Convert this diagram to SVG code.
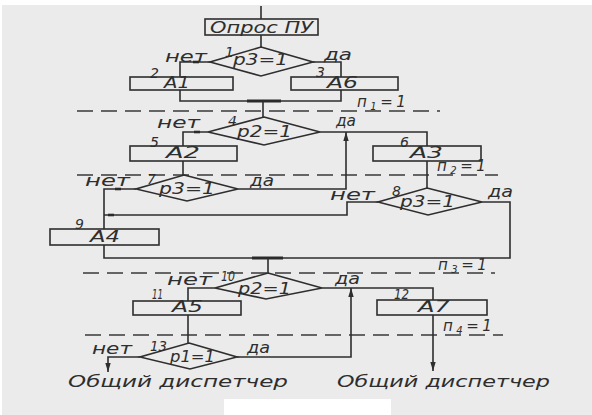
<svg xmlns="http://www.w3.org/2000/svg" width="592" height="415" viewBox="0 0 592 415">
<defs>
<style>
.ln{fill:none;stroke:#2e2e2e;stroke-width:1.6;stroke-linejoin:miter}
.bx{fill:none;stroke:#2e2e2e;stroke-width:1.6}
.ds{fill:none;stroke:#3a3a3a;stroke-width:1.4;stroke-dasharray:16 8}
.bd{stroke:#2a2a2a;stroke-width:3}
.mk{stroke:#2a2a2a;stroke-width:2.6}
.t{font-family:"DejaVu Sans","Noto Sans",sans-serif;font-style:italic;fill:#2e2e2e;font-size:15px}
.n{font-size:14px}
.s{letter-spacing:3.5px}
</style>
<marker id="ah" viewBox="0 0 10 10" refX="10" refY="5" markerWidth="9" markerHeight="9" markerUnits="userSpaceOnUse" orient="auto">
<path d="M0,2 L10,5 L0,8 z" fill="#2e2e2e"/>
</marker>
</defs>
<rect x="0" y="0" width="592" height="415" fill="#ffffff"/>
<rect x="2" y="5" width="590" height="410" fill="#ebebeb"/>
<rect x="224" y="399" width="167" height="16" fill="#ffffff"/>

<g id="levels">
<line class="ds" x1="77" y1="111" x2="440" y2="111"/>
<line class="ds" x1="77" y1="175" x2="498" y2="175"/>
<line class="ds" x1="83" y1="273" x2="495" y2="273"/>
<line class="ds" x1="85" y1="335" x2="503" y2="335"/>
<text class="t s" x="357" y="107">п<tspan font-size="10" dy="3">1</tspan><tspan dy="-3">=1</tspan></text>
<text class="t s" x="437" y="171">п<tspan font-size="10" dy="3">2</tspan><tspan dy="-3">=1</tspan></text>
<text class="t s" x="438" y="270">п<tspan font-size="10" dy="3">3</tspan><tspan dy="-3">=1</tspan></text>
<text class="t s" x="443" y="331">п<tspan font-size="10" dy="3">4</tspan><tspan dy="-3">=1</tspan></text>
</g>

<g id="connectors">
<path class="ln" d="M261,6 V19"/>
<path class="ln" d="M261,35 V47"/>
<path class="ln" d="M210,62 H180 V77"/>
<path class="ln" d="M313,62 H341 V77"/>
<path class="ln" d="M180,90 V101 H341 V90"/>
<line class="bd" x1="247" y1="101" x2="281" y2="101"/>
<path class="ln" d="M263,101 V117"/>
<path class="ln" d="M208,132 H183 V146"/>
<path class="ln" d="M320,132 H427 V146"/>
<path class="ln" d="M183,161 V175"/>
<path class="ln" d="M427,161 V188"/>
<path class="ln" d="M136,189 H104 V229"/>
<path class="ln" d="M238,189 H346 V132" marker-end="url(#ah)"/>
<path class="ln" d="M378,202 H347 V215 H104"/>
<path class="ln" d="M104,245 V258 H510 V202 H482"/>
<line class="bd" x1="252" y1="258" x2="283" y2="258"/>
<path class="ln" d="M268,258 V273"/>
<path class="ln" d="M215,288 H188 V301"/>
<path class="ln" d="M322,288 H433 V300"/>
<path class="ln" d="M188,315 V343"/>
<path class="ln" d="M433,315 V371" marker-end="url(#ah)"/>
<path class="ln" d="M140,357 H108 V372" marker-end="url(#ah)"/>
<path class="ln" d="M237,357 H351 V288" marker-end="url(#ah)"/>
<line class="mk" x1="193" y1="62" x2="199" y2="62"/>
<line class="mk" x1="194" y1="132" x2="200" y2="132"/>
<line class="mk" x1="115" y1="189" x2="121" y2="189"/>
<line class="mk" x1="108" y1="215" x2="114" y2="215"/>
</g>

<g id="start">
<rect class="bx" x="205" y="19" width="113" height="16"/>
<text class="t" x="210" y="33" textLength="103" lengthAdjust="spacingAndGlyphs">Опрос ПУ</text>
</g>

<g id="d1">
<polygon class="bx" points="261,47 313,62 261,76 210,62"/>
<text class="t" x="165" y="62" textLength="42" lengthAdjust="spacingAndGlyphs">нет</text>
<text class="t n" x="225" y="57">1</text>
<text class="t" x="233" y="65" textLength="55" lengthAdjust="spacingAndGlyphs">р3=1</text>
<text class="t" x="324" y="60" textLength="28" lengthAdjust="spacingAndGlyphs">да</text>
</g>

<g id="b2">
<rect class="bx" x="130" y="77" width="103" height="13"/>
<text class="t n" x="150" y="78">2</text>
<text class="t" x="164" y="88" textLength="26" lengthAdjust="spacingAndGlyphs">А1</text>
</g>

<g id="b3">
<rect class="bx" x="291" y="77" width="107" height="13"/>
<text class="t n" x="316" y="77">3</text>
<text class="t" x="327" y="88" textLength="31" lengthAdjust="spacingAndGlyphs">А6</text>
</g>

<g id="d4">
<polygon class="bx" points="264,117 320,132 264,145 208,132"/>
<text class="t" x="157" y="128" textLength="43" lengthAdjust="spacingAndGlyphs">нет</text>
<text class="t n" x="228" y="126">4</text>
<text class="t" x="237" y="137" textLength="55" lengthAdjust="spacingAndGlyphs">р2=1</text>
<text class="t" x="336" y="126" textLength="20" lengthAdjust="spacingAndGlyphs">да</text>
</g>

<g id="b5">
<rect class="bx" x="130" y="146" width="107" height="15"/>
<text class="t n" x="150" y="147">5</text>
<text class="t" x="166" y="158" textLength="34" lengthAdjust="spacingAndGlyphs">А2</text>
</g>

<g id="b6">
<rect class="bx" x="373" y="146" width="108" height="15"/>
<text class="t n" x="400" y="147">6</text>
<text class="t" x="410" y="158" textLength="33" lengthAdjust="spacingAndGlyphs">А3</text>
</g>

<g id="d7">
<polygon class="bx" points="184,175 238,189 187,201 136,189"/>
<text class="t" x="85" y="186" textLength="45" lengthAdjust="spacingAndGlyphs">нет</text>
<text class="t n" x="147" y="184">7</text>
<text class="t" x="159" y="194" textLength="56" lengthAdjust="spacingAndGlyphs">р3=1</text>
<text class="t" x="250" y="186" textLength="24" lengthAdjust="spacingAndGlyphs">да</text>
</g>

<g id="d8">
<polygon class="bx" points="427,188 482,202 428,215 378,202"/>
<text class="t" x="330" y="200" textLength="45" lengthAdjust="spacingAndGlyphs">нет</text>
<text class="t n" x="392" y="196">8</text>
<text class="t" x="400" y="207" textLength="55" lengthAdjust="spacingAndGlyphs">р3=1</text>
<text class="t" x="488" y="197" textLength="25" lengthAdjust="spacingAndGlyphs">да</text>
</g>

<g id="b9">
<rect class="bx" x="50" y="229" width="109" height="16"/>
<text class="t n" x="75" y="229">9</text>
<text class="t" x="90" y="242" textLength="30" lengthAdjust="spacingAndGlyphs">А4</text>
</g>

<g id="d10">
<polygon class="bx" points="268,273 322,288 266,299 215,288"/>
<text class="t" x="167" y="285" textLength="45" lengthAdjust="spacingAndGlyphs">нет</text>
<text class="t n" x="221" y="281" textLength="14" lengthAdjust="spacingAndGlyphs">10</text>
<text class="t" x="238" y="294" textLength="53" lengthAdjust="spacingAndGlyphs">р2=1</text>
<text class="t" x="335" y="284" textLength="25" lengthAdjust="spacingAndGlyphs">да</text>
</g>

<g id="b11">
<rect class="bx" x="133" y="301" width="108" height="14"/>
<text class="t n" x="152" y="299" textLength="11" lengthAdjust="spacingAndGlyphs">11</text>
<text class="t" x="172" y="312" textLength="31" lengthAdjust="spacingAndGlyphs">А5</text>
</g>

<g id="b12">
<rect class="bx" x="377" y="300" width="110" height="15"/>
<text class="t n" x="394" y="299" textLength="15" lengthAdjust="spacingAndGlyphs">12</text>
<text class="t" x="418" y="312" textLength="32" lengthAdjust="spacingAndGlyphs">А7</text>
</g>

<g id="d13">
<polygon class="bx" points="189,343 237,357 190,369 140,357"/>
<text class="t" x="92" y="354" textLength="40" lengthAdjust="spacingAndGlyphs">нет</text>
<text class="t n" x="150" y="351" textLength="17" lengthAdjust="spacingAndGlyphs">13</text>
<text class="t" x="170" y="362" textLength="45" lengthAdjust="spacingAndGlyphs">р1=1</text>
<text class="t" x="247" y="353" textLength="23" lengthAdjust="spacingAndGlyphs">да</text>
</g>

<g id="end1">
<text class="t" x="68" y="387" font-size="16" textLength="220" lengthAdjust="spacingAndGlyphs">Общий диспетчер</text>
</g>
<g id="end2">
<text class="t" x="337" y="387" font-size="16" textLength="213" lengthAdjust="spacingAndGlyphs">Общий диспетчер</text>
</g>
</svg>
